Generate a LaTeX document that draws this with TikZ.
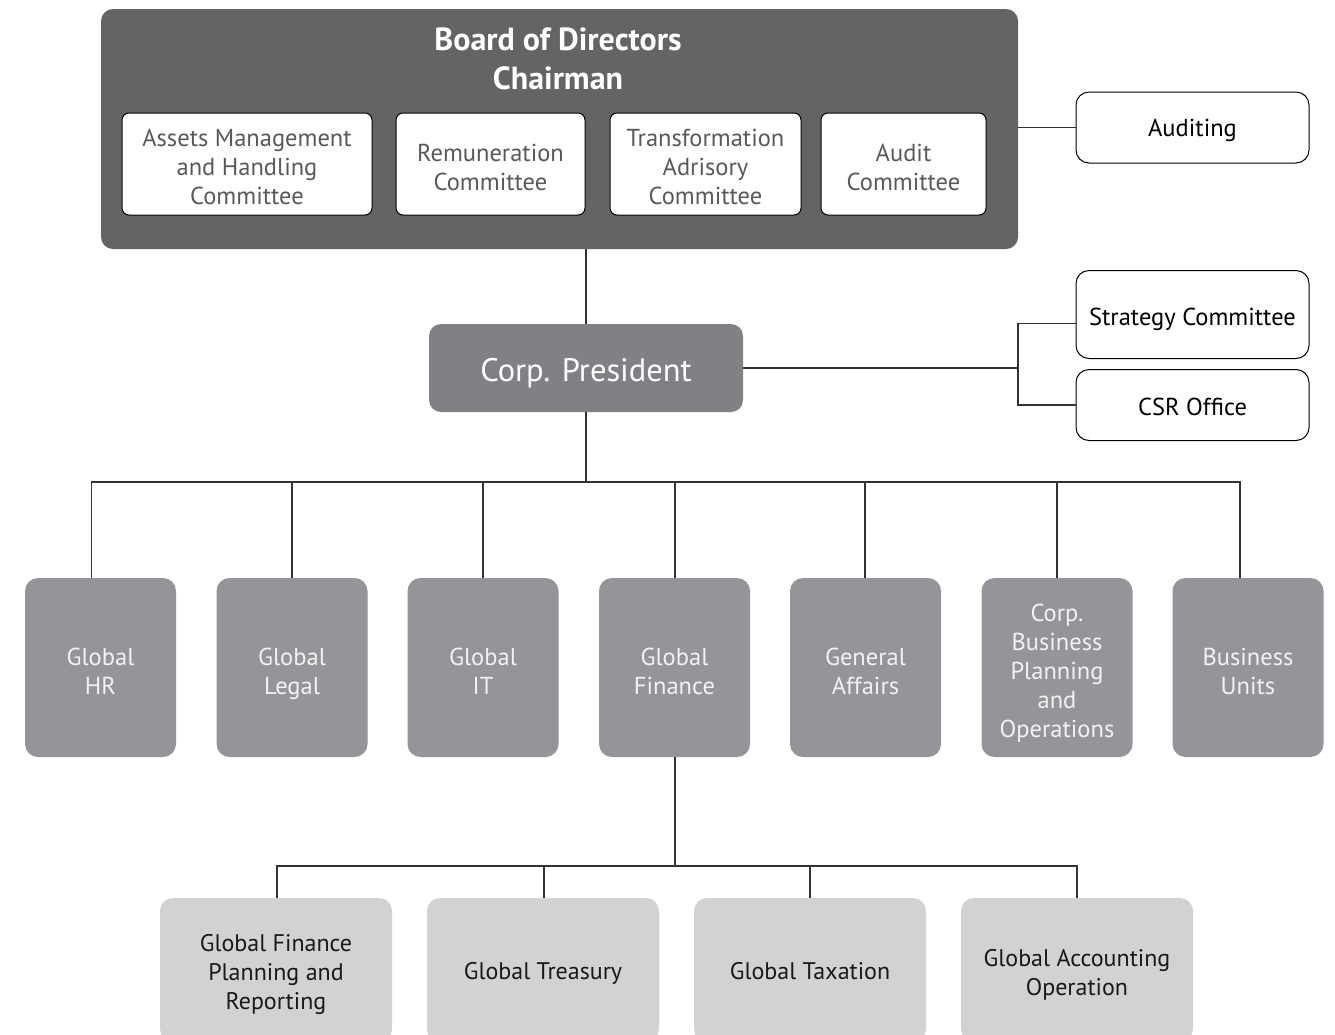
\documentclass[tikz,border=0pt]{standalone}
\usepackage{fontspec}
\setmainfont{PT Sans}
\definecolor{boardgray}{HTML}{636466}
\definecolor{presgray}{HTML}{808184}
\definecolor{deptgray}{HTML}{939598}
\definecolor{subgray}{HTML}{D1D2D4}
\definecolor{textgray}{HTML}{58595B}
\definecolor{linegray}{HTML}{333333}
% centred lines of text, set a little lower than their box
\newcommand\ml[2][5.5pt]{\raisebox{-#1}[\height][\depth]{\begin{tabular}{@{}c@{}}#2\end{tabular}}}
\tikzset{
  conn/.style={draw=linegray, line width=1.3pt},
  boardbox/.style={rectangle, rounded corners=12pt, fill=boardgray, draw=none,
    minimum width=917pt, minimum height=240pt, inner sep=0pt},
  cmtbox/.style={rectangle, rounded corners=7pt, fill=white, draw=black, line width=1pt,
    minimum height=102pt, inner sep=0pt, text=textgray,
    font=\fontsize{24.5}{29}\selectfont},
  sidebox/.style={rectangle, rounded corners=13pt, fill=white, draw=black, line width=1pt,
    minimum width=233pt, inner sep=0pt, text=black,
    font=\fontsize{24.5}{29}\selectfont},
  presbox/.style={rectangle, rounded corners=12pt, fill=presgray, draw=none,
    minimum width=314pt, minimum height=88pt, inner sep=0pt, text=white,
    font=\fontsize{32.5}{38}\selectfont},
  deptbox/.style={rectangle, rounded corners=13pt, fill=deptgray, draw=none,
    minimum width=151pt, minimum height=179pt, inner sep=0pt,
    text=white!95!black, font=\fontsize{24.5}{29}\selectfont},
  subbox/.style={rectangle, rounded corners=13pt, fill=subgray, draw=none,
    minimum width=232pt, minimum height=144pt, inner sep=0pt,
    text=black!90, font=\fontsize{24}{29}\selectfont},
}
\begin{document}
\begin{tikzpicture}[x=1pt, y=-1pt]
\clip (0,0) rectangle (1335,1034);
\fill[white] (0,0) rectangle (1335,1034);

% Board of Directors with its committees
\node[boardbox] (board) at (559.5,129) {};
\node[text=white, font=\fontsize{32}{39}\selectfont\bfseries, inner sep=0pt]
  (title) at (558,57) {\ml{Board of Directors\\Chairman}};
\node[cmtbox, minimum width=250pt] (c1) at (247,164) {\ml[6pt]{Assets Management\\and Handling\\Committee}};
\node[cmtbox, minimum width=189pt] (c2) at (490.5,164) {\ml[6pt]{Remuneration\\Committee}};
\node[cmtbox, minimum width=191pt] (c3) at (705.5,164) {\ml[6pt]{Transformation\\Adrisory\\Committee}};
\node[cmtbox, minimum width=165pt] (c4) at (903.5,164) {\ml[6pt]{Audit\\Committee}};

\node[sidebox, minimum height=71pt] (aud) at (1192.5,127.5) {\ml[3.5pt]{Auditing}};

% Corporate president and staff offices
\node[presbox] (cp) at (586,368) {\ml[6pt]{Corp. President}};
\node[sidebox, minimum height=88pt] (strat) at (1192.5,314.5) {\ml[5pt]{Strategy Committee}};
\node[sidebox, minimum height=71pt] (csr) at (1192.5,405) {\ml[5pt]{CSR Office}};

% Global departments
\node[deptbox] (hr)  at (100.5,667.5) {\ml[6.5pt]{Global\\HR}};
\node[deptbox] (leg) at (292,667.5) {\ml[6.5pt]{Global\\Legal}};
\node[deptbox] (it)  at (483,667.5) {\ml[6.5pt]{Global\\IT}};
\node[deptbox] (fin) at (674.5,667.5) {\ml[6.5pt]{Global\\Finance}};
\node[deptbox] (ga)  at (865.5,667.5) {\ml[6.5pt]{General\\Affairs}};
\node[deptbox] (cbp) at (1057,667.5) {\ml[6pt]{Corp.\\Business\\Planning\\and\\Operations}};
\node[deptbox] (bu)  at (1248,667.5) {\ml[6.5pt]{Business\\Units}};

% Finance sub-units
\node[subbox] (s1) at (276,970) {\ml[4.5pt]{Global Finance\\Planning and\\Reporting}};
\node[subbox] (s2) at (543,970) {\ml[3.5pt]{Global Treasury}};
\node[subbox] (s3) at (810,970) {\ml[3.5pt]{Global Taxation}};
\node[subbox] (s4) at (1077,970) {\ml[5pt]{Global Accounting\\Operation}};

% Connectors
\draw[conn] (aud.west -| board.east) -- (aud.west);
\draw[conn] (cp.north |- board.south) -- (cp.north);

\coordinate (j) at (1018,368);
\draw[conn] (cp.east) -- (j);
\draw[conn] ([yshift=-9pt]strat.west) -| (j) |- (csr.west);

\coordinate (bus) at (586,482);
\draw[conn] (cp.south) -- (bus);
\draw[conn] (bus) -| ([xshift=-9pt]hr.north);
\draw[conn] (bus) -| (leg.north);
\draw[conn] (bus) -| (it.north);
\draw[conn] (bus) -| ([xshift=0.5pt]fin.north);
\draw[conn] (bus) -| ([xshift=-0.5pt]ga.north);
\draw[conn] (bus) -| (cbp.north);
\draw[conn] (bus) -| ([xshift=-8pt]bu.north);

\coordinate (fbus) at (675,866);
\draw[conn] ([xshift=0.5pt]fin.south) -- (fbus);
\draw[conn] (fbus) -| ([xshift=1pt]s1.north);
\draw[conn] (fbus) -| ([xshift=1pt]s2.north);
\draw[conn] (fbus) -| (s3.north);
\draw[conn] (fbus) -| (s4.north);
\end{tikzpicture}
\end{document}
